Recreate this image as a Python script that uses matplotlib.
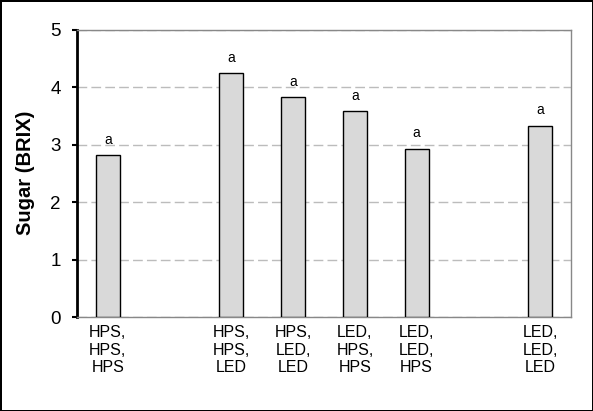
import numpy as np
import matplotlib.pyplot as plt

plt.rcParams['font.family'] = ['Liberation Sans', 'DejaVu Sans']

# treatments (empty slots are gaps in the chart)
labels = ["HPS,\nHPS,\nHPS", "", "HPS,\nHPS,\nLED", "HPS,\nLED,\nLED",
          "LED,\nHPS,\nHPS", "LED,\nLED,\nHPS", "", "LED,\nLED,\nLED"]
sugar = [2.82, np.nan, 4.24, 3.83, 3.58, 2.93, np.nan, 3.33]
letters = ["a", "", "a", "a", "a", "a", "", "a"]

fig = plt.figure(figsize=(5.93, 4.11), dpi=100, linewidth=2, edgecolor='black')
ax = fig.add_axes([0.1298, 0.2287, 0.8332, 0.6995])

x = np.arange(len(labels))
ax.bar(x, sugar, width=0.39, color='#d9d9d9', edgecolor='black', linewidth=1, zorder=3)

for xi, v, t in zip(x, sugar, letters):
    if t:
        ax.annotate(t, (xi, v), xytext=(0, 8), textcoords='offset points',
                    ha='center', va='baseline', fontsize=10)

ax.set_xlim(-0.5, len(labels) - 0.5)
ax.set_ylim(0, 5)
ax.set_yticks([0, 1, 2, 3, 4, 5])
ax.set_xticks(x)
ax.set_xticklabels(labels, fontsize=11.5, linespacing=1.2)
ax.tick_params(axis='x', length=0, pad=6)
ax.tick_params(axis='y', labelsize=13.5, length=3.5, width=1.5, pad=8, direction='out')
ax.set_ylabel('Sugar (BRIX)', fontsize=14.5, fontweight='bold', labelpad=11)

ax.yaxis.grid(True, color='#bcbcbc', linestyle=(0, (7, 3)), linewidth=1, zorder=0)
ax.set_axisbelow(True)

ax.spines['left'].set_linewidth(2)
ax.spines['left'].set_color('black')
for s in ['top', 'right', 'bottom']:
    ax.spines[s].set_color('#888888')
    ax.spines[s].set_linewidth(1)

fig.savefig('out.png', dpi=100, edgecolor=fig.get_edgecolor())
